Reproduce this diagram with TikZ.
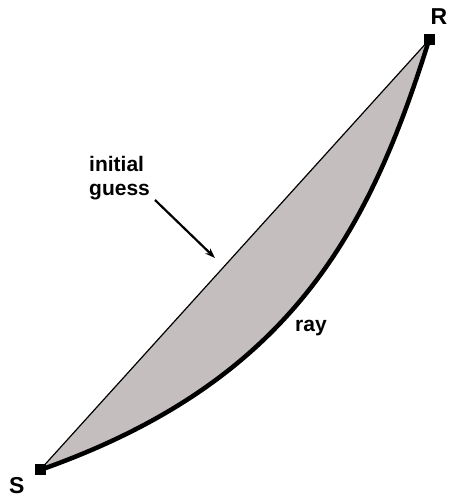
\documentclass[tikz,border=0pt]{standalone}
\usepackage{fontspec}
\setmainfont{Liberation Sans}
\usetikzlibrary{arrows.meta}
\definecolor{bodygray}{RGB}{196,190,190}
\begin{document}
\begin{tikzpicture}[x=1pt,y=1pt,
  endpt/.style={fill=black,minimum size=11pt,inner sep=0pt,outer sep=0pt},
  lbl/.style={font=\bfseries\fontsize{21}{24}\selectfont,inner sep=0pt},
  endlbl/.style={font=\bfseries\fontsize{23}{24}\selectfont,inner sep=0pt},
  chord/.style={line width=1.2pt},
  raypath/.style={line width=4.5pt},
  pointer/.style={line width=2.2pt,-{Stealth[length=10pt,width=7pt]}}
  ]
\useasboundingbox (0,0) rectangle (448,498);
\coordinate (s) at (40,28);
\coordinate (r) at (429,458);
\fill[bodygray] (s) -- (r) .. controls (369,266) and (290,116) .. (s);
\draw[chord] (s) -- (r);
\draw[raypath] (s) .. controls (290,116) and (369,266) .. (r);
\node[endpt] (S) at (s) {};
\node[endpt] (R) at (r) {};
\node[endlbl,anchor=base west] (Slbl) at (9,5) {S};
\node[endlbl,anchor=base east] (Rlbl) at (447.5,473) {R};
\node[lbl,anchor=north west,align=left] (guess) at (89,342) {initial\\guess};
\coordinate (tip) at (215,240);
\coordinate (tail) at (155,298);
\draw[pointer] (tail) -- (tip);
\node[lbl,anchor=base] (raylbl) at (311,166) {ray};
\end{tikzpicture}
\end{document}
